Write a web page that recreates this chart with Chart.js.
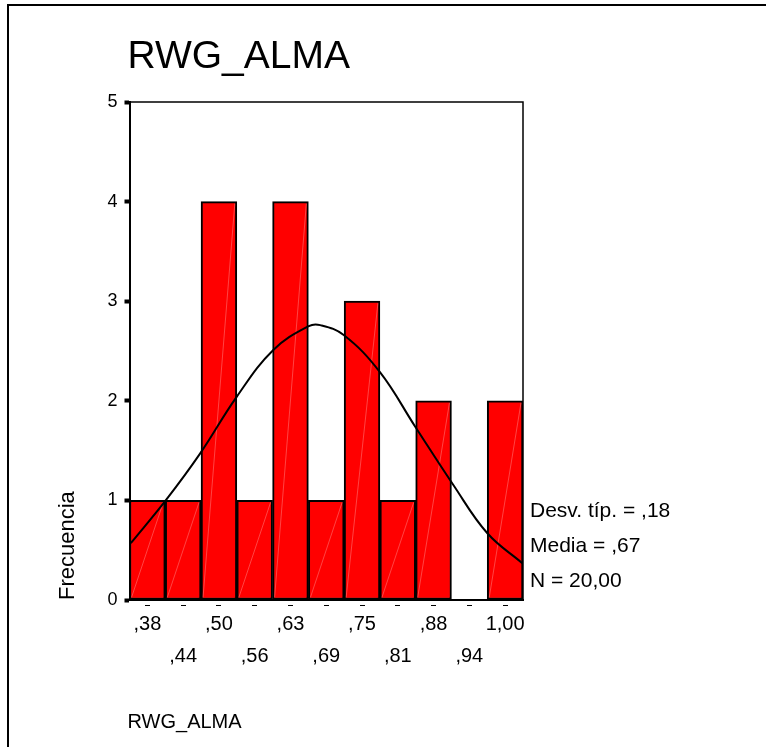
<!DOCTYPE html>
<html>
<head>
<meta charset="utf-8">
<script src="https://cdn.jsdelivr.net/npm/chart.js@4"></script>
<style>
  html, body { margin: 0; padding: 0; background: #fff; }
  canvas { display: block; }
</style>
</head>
<body>
<canvas id="histChart" width="766" height="747"></canvas>
<script>
// bin centres of the histogram (labels staggered on two rows)
const binLabels = [',38', ',44', ',50', ',56', ',63', ',69', ',75', ',81', ',88', ',94', '1,00'];
const frequencies = [1, 1, 4, 1, 4, 1, 3, 1, 2, 0, 2];

// normal curve (x in variable units)
const curveX = [0.346, 0.407, 0.467, 0.531, 0.595, 0.657, 0.677, 0.718, 0.781, 0.843, 0.909, 0.969, 1.030];
const curveY = [0.57, 1.00, 1.47, 2.04, 2.51, 2.75, 2.76, 2.66, 2.29, 1.74, 1.16, 0.67, 0.37];

const yTicks = [0, 1, 2, 3, 4, 5];
const statsLines = ['Desv. típ. = ,18', 'Media = ,67', 'N = 20,00'];
const chartTitle = 'RWG_ALMA';
const xTitle = 'RWG_ALMA';
const yTitle = 'Frecuencia';

const FONT = 'Arial, "Liberation Sans", sans-serif';

// x range of the bins (edges), to put the curve on the same scale
const binMin = 0.34375, binMax = 1.03125;

// Etiquetas alternadas: pares arriba, impares abajo
const staggered = binLabels.map((l, i) => i % 2 === 0 ? [l, ''] : ['', l]);

// faint diagonal streak inside each bar (SPSS rendering artefact)
const streakPlugin = {
    id: 'streak',
    afterDatasetDraw(chart, args) {
        if (args.meta.type !== 'bar') return;
        const ctx = chart.ctx;
        ctx.save();
        ctx.strokeStyle = 'rgba(255,150,150,0.45)';
        ctx.lineWidth = 1;
        args.meta.data.forEach(bar => {
            const p = bar.getProps(['x', 'y', 'base', 'width']);
            if (p.base - p.y < 2) return;
            ctx.beginPath();
            ctx.moveTo(p.x - p.width / 2 + 2, p.base - 2);
            ctx.lineTo(p.x + p.width / 2 - 2, p.y + 2);
            ctx.stroke();
        });
        ctx.restore();
    }
};

const decorPlugin = {
    id: 'decor',
    afterDraw(chart) {
        const ctx = chart.ctx;
        const a = chart.chartArea;
        ctx.save();
        // outer frame (only left and top visible)
        ctx.strokeStyle = '#000';
        ctx.lineWidth = 2;
        ctx.beginPath();
        ctx.moveTo(8, 747);
        ctx.lineTo(8, 5);
        ctx.lineTo(766, 5);
        ctx.stroke();

        // plot box top / right
        ctx.lineWidth = 1.5;
        ctx.beginPath();
        ctx.moveTo(a.left, a.top);
        ctx.lineTo(a.right, a.top);
        ctx.lineTo(a.right, a.bottom);
        ctx.stroke();

        ctx.fillStyle = '#000';
        ctx.textBaseline = 'middle';
        ctx.textAlign = 'left';
        ctx.font = '39px ' + FONT;
        ctx.fillText(chartTitle, a.left - 2, 57);

        ctx.font = '21px ' + FONT;
        statsLines.forEach((t, i) => {
            ctx.fillText(t, a.right + 7, a.bottom - 89 + i * 35);
        });

        ctx.font = '20px ' + FONT;
        ctx.fillText(xTitle, a.left - 2, 722);
        ctx.restore();
    }
};

const ctx = document.getElementById('histChart').getContext('2d');
new Chart(ctx, {
    type: 'bar',
    data: {
        labels: staggered,
        datasets: [
            {
                type: 'line',
                data: curveX.map((x, i) => ({ x: x, y: curveY[i] })),
                xAxisID: 'xc',
                borderColor: '#000',
                borderWidth: 2,
                pointRadius: 0,
                tension: 0.4,
                fill: false,
                order: 0
            },
            {
                data: frequencies,
                backgroundColor: '#ff0000',
                borderColor: '#000',
                borderWidth: 2,
                borderSkipped: false,
                barPercentage: 1,
                categoryPercentage: 1,
                grouped: false,
                order: 1
            }
        ]
    },
    options: {
        responsive: false,
        animation: false,
        layout: { padding: { left: 50, top: 102, right: 243, bottom: 0 } },
        plugins: {
            legend: { display: false },
            tooltip: { enabled: false }
        },
        scales: {
            x: {
                offset: true,
                grid: {
                    offset: false,
                    drawOnChartArea: false,
                    tickLength: 6,
                    tickWidth: 5,
                    tickColor: '#000',
                    tickBorderDash: [2, 10],
                    tickBorderDashOffset: 8
                },
                border: { color: '#000', width: 2 },
                ticks: {
                    color: '#000',
                    font: { family: FONT, size: 20, lineHeight: 1.6 },
                    maxRotation: 0,
                    autoSkip: false,
                    padding: 2
                },
                afterFit: s => { s.height = 147; }
            },
            xc: {
                type: 'linear',
                display: false,
                offset: false,
                min: binMin,
                max: binMax
            },
            y: {
                min: 0,
                max: 5,
                afterBuildTicks: s => { s.ticks = yTicks.map(v => ({ value: v })); },
                grid: {
                    drawOnChartArea: false,
                    tickLength: 5,
                    tickWidth: 4,
                    tickColor: '#000'
                },
                border: { color: '#000', width: 2 },
                ticks: {
                    color: '#000',
                    font: { family: FONT, size: 18 },
                    padding: 7
                },
                title: {
                    display: true,
                    text: yTitle,
                    align: 'start',
                    color: '#000',
                    font: { family: FONT, size: 22 },
                    padding: { top: 5, bottom: 0 }
                },
                afterFit: s => { s.width = 79.5; }
            }
        }
    },
    plugins: [streakPlugin, decorPlugin]
});
</script>
</body>
</html>
